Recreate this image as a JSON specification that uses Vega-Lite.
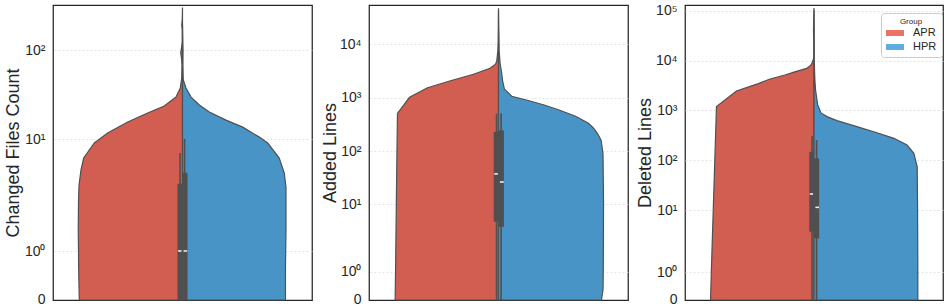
{
 "$schema": "https://vega.github.io/schema/vega-lite/v6.json",
 "padding": {"left": 3, "top": 3, "right": 0, "bottom": 0},
 "background": "white",
 "config": {
  "font": "Liberation Sans",
  "view": {"stroke": "#262626", "strokeWidth": 1.25},
  "axisY": {"domain": false, "ticks": false, "tickSize": 0, "labelPadding": 8, "labelFontSize": 14, "labelColor": "#262626", "titleFontSize": 18, "titleFontWeight": "normal", "titleColor": "#262626", "titleBaseline": "alphabetic", "titleY": 147.5, "titleX": -34, "gridColor": "#dddddd", "gridDash": [2, 2], "gridWidth": 0.8,
   "gridOpacity": {"condition": {"test": "datum.value === 0", "value": 0}, "value": 1},
   "labelOffset": {"condition": {"test": "datum.value === 0", "value": -1}, "value": 0},
   "labelExpr": "datum.value == 0 ? '0' : datum.value == 1 ? '10⁰' : datum.value == 10 ? '10¹' : datum.value == 100 ? '10²' : datum.value == 1000 ? '10³' : datum.value == 10000 ? '10⁴' : '10⁵'"}
 },
 "spacing": 57,
 "bounds": "flush",
 "resolve": {"scale": {"color": "independent"}, "legend": {"color": "independent"}},
 "datasets": {
  "violin": [
   {"metric": "files", "group": "APR", "value": 0, "density": 0.797},
   {"metric": "files", "group": "APR", "value": 0.194, "density": 0.802},
   {"metric": "files", "group": "APR", "value": 1, "density": 0.803},
   {"metric": "files", "group": "APR", "value": 1.54, "density": 0.805},
   {"metric": "files", "group": "APR", "value": 2.85, "density": 0.803},
   {"metric": "files", "group": "APR", "value": 3.88, "density": 0.799},
   {"metric": "files", "group": "APR", "value": 5.29, "density": 0.784},
   {"metric": "files", "group": "APR", "value": 6.77, "density": 0.763},
   {"metric": "files", "group": "APR", "value": 9.21, "density": 0.681},
   {"metric": "files", "group": "APR", "value": 11.7, "density": 0.578},
   {"metric": "files", "group": "APR", "value": 15.5, "density": 0.423},
   {"metric": "files", "group": "APR", "value": 19.6, "density": 0.269},
   {"metric": "files", "group": "APR", "value": 23.5, "density": 0.141},
   {"metric": "files", "group": "APR", "value": 29.6, "density": 0.05},
   {"metric": "files", "group": "APR", "value": 37.4, "density": 0.017},
   {"metric": "files", "group": "APR", "value": 48.4, "density": 0.006},
   {"metric": "files", "group": "APR", "value": 67.8, "density": 0.004},
   {"metric": "files", "group": "APR", "value": 81.3, "density": 0.008},
   {"metric": "files", "group": "APR", "value": 92.5, "density": 0.014},
   {"metric": "files", "group": "APR", "value": 105, "density": 0.008},
   {"metric": "files", "group": "APR", "value": 123, "density": 0.002},
   {"metric": "files", "group": "APR", "value": 168, "density": 0.002},
   {"metric": "files", "group": "APR", "value": 191, "density": 0.006},
   {"metric": "files", "group": "APR", "value": 217, "density": 0.002},
   {"metric": "files", "group": "APR", "value": 296, "density": 0},
   {"metric": "files", "group": "HPR", "value": 0, "density": 0.795},
   {"metric": "files", "group": "HPR", "value": 0.194, "density": 0.795},
   {"metric": "files", "group": "HPR", "value": 1.54, "density": 0.799},
   {"metric": "files", "group": "HPR", "value": 2.32, "density": 0.799},
   {"metric": "files", "group": "HPR", "value": 3.73, "density": 0.799},
   {"metric": "files", "group": "HPR", "value": 4.97, "density": 0.786},
   {"metric": "files", "group": "HPR", "value": 6.77, "density": 0.747},
   {"metric": "files", "group": "HPR", "value": 9.21, "density": 0.658},
   {"metric": "files", "group": "HPR", "value": 10.5, "density": 0.593},
   {"metric": "files", "group": "HPR", "value": 13.6, "density": 0.465},
   {"metric": "files", "group": "HPR", "value": 16.3, "density": 0.336},
   {"metric": "files", "group": "HPR", "value": 20.1, "density": 0.207},
   {"metric": "files", "group": "HPR", "value": 24.1, "density": 0.13},
   {"metric": "files", "group": "HPR", "value": 29.6, "density": 0.066},
   {"metric": "files", "group": "HPR", "value": 37.4, "density": 0.027},
   {"metric": "files", "group": "HPR", "value": 46, "density": 0.006},
   {"metric": "files", "group": "HPR", "value": 67.8, "density": 0.003},
   {"metric": "files", "group": "HPR", "value": 100, "density": 0.004},
   {"metric": "files", "group": "HPR", "value": 147, "density": 0.0015},
   {"metric": "files", "group": "HPR", "value": 191, "density": 0},
   {"metric": "added", "group": "APR", "value": 0, "density": 0.798},
   {"metric": "added", "group": "APR", "value": 1, "density": 0.795},
   {"metric": "added", "group": "APR", "value": 10, "density": 0.789},
   {"metric": "added", "group": "APR", "value": 100, "density": 0.784},
   {"metric": "added", "group": "APR", "value": 509, "density": 0.78},
   {"metric": "added", "group": "APR", "value": 1016, "density": 0.687},
   {"metric": "added", "group": "APR", "value": 1535, "density": 0.548},
   {"metric": "added", "group": "APR", "value": 2075, "density": 0.371},
   {"metric": "added", "group": "APR", "value": 2748, "density": 0.193},
   {"metric": "added", "group": "APR", "value": 3566, "density": 0.066},
   {"metric": "added", "group": "APR", "value": 4236, "density": 0.023},
   {"metric": "added", "group": "APR", "value": 4920, "density": 0.013},
   {"metric": "added", "group": "APR", "value": 7744, "density": 0.005},
   {"metric": "added", "group": "APR", "value": 11940, "density": 0.002},
   {"metric": "added", "group": "APR", "value": 22800, "density": 0.001},
   {"metric": "added", "group": "APR", "value": 47500, "density": 0},
   {"metric": "added", "group": "HPR", "value": 0, "density": 0.795},
   {"metric": "added", "group": "HPR", "value": 0.041, "density": 0.807},
   {"metric": "added", "group": "HPR", "value": 1, "density": 0.809},
   {"metric": "added", "group": "HPR", "value": 10, "density": 0.811},
   {"metric": "added", "group": "HPR", "value": 89.3, "density": 0.807},
   {"metric": "added", "group": "HPR", "value": 159, "density": 0.792},
   {"metric": "added", "group": "HPR", "value": 206, "density": 0.768},
   {"metric": "added", "group": "HPR", "value": 267, "density": 0.734},
   {"metric": "added", "group": "HPR", "value": 331, "density": 0.695},
   {"metric": "added", "group": "HPR", "value": 448, "density": 0.595},
   {"metric": "added", "group": "HPR", "value": 593, "density": 0.463},
   {"metric": "added", "group": "HPR", "value": 736, "density": 0.347},
   {"metric": "added", "group": "HPR", "value": 914, "density": 0.208},
   {"metric": "added", "group": "HPR", "value": 1062, "density": 0.102},
   {"metric": "added", "group": "HPR", "value": 1439, "density": 0.046},
   {"metric": "added", "group": "HPR", "value": 2119, "density": 0.031},
   {"metric": "added", "group": "HPR", "value": 2871, "density": 0.025},
   {"metric": "added", "group": "HPR", "value": 4416, "density": 0.012},
   {"metric": "added", "group": "HPR", "value": 7744, "density": 0.005},
   {"metric": "added", "group": "HPR", "value": 11940, "density": 0.004},
   {"metric": "added", "group": "HPR", "value": 22800, "density": 0.0015},
   {"metric": "added", "group": "HPR", "value": 43700, "density": 0},
   {"metric": "deleted", "group": "APR", "value": 0, "density": 0.802},
   {"metric": "deleted", "group": "APR", "value": 1, "density": 0.796},
   {"metric": "deleted", "group": "APR", "value": 10, "density": 0.781},
   {"metric": "deleted", "group": "APR", "value": 100, "density": 0.769},
   {"metric": "deleted", "group": "APR", "value": 1186, "density": 0.756},
   {"metric": "deleted", "group": "APR", "value": 2455, "density": 0.601},
   {"metric": "deleted", "group": "APR", "value": 3500, "density": 0.426},
   {"metric": "deleted", "group": "APR", "value": 4276, "density": 0.341},
   {"metric": "deleted", "group": "APR", "value": 5140, "density": 0.225},
   {"metric": "deleted", "group": "APR", "value": 5900, "density": 0.155},
   {"metric": "deleted", "group": "APR", "value": 7000, "density": 0.058},
   {"metric": "deleted", "group": "APR", "value": 7980, "density": 0.027},
   {"metric": "deleted", "group": "APR", "value": 8830, "density": 0.016},
   {"metric": "deleted", "group": "APR", "value": 11270, "density": 0.002},
   {"metric": "deleted", "group": "APR", "value": 25900, "density": 0.002},
   {"metric": "deleted", "group": "APR", "value": 41100, "density": 0.004},
   {"metric": "deleted", "group": "APR", "value": 114000, "density": 0},
   {"metric": "deleted", "group": "HPR", "value": 0, "density": 0.805},
   {"metric": "deleted", "group": "HPR", "value": 1, "density": 0.805},
   {"metric": "deleted", "group": "HPR", "value": 10, "density": 0.803},
   {"metric": "deleted", "group": "HPR", "value": 74, "density": 0.8},
   {"metric": "deleted", "group": "HPR", "value": 138, "density": 0.774},
   {"metric": "deleted", "group": "HPR", "value": 202, "density": 0.721},
   {"metric": "deleted", "group": "HPR", "value": 275, "density": 0.62},
   {"metric": "deleted", "group": "HPR", "value": 356, "density": 0.488},
   {"metric": "deleted", "group": "HPR", "value": 471, "density": 0.333},
   {"metric": "deleted", "group": "HPR", "value": 621, "density": 0.178},
   {"metric": "deleted", "group": "HPR", "value": 747, "density": 0.101},
   {"metric": "deleted", "group": "HPR", "value": 887, "density": 0.054},
   {"metric": "deleted", "group": "HPR", "value": 1283, "density": 0.029},
   {"metric": "deleted", "group": "HPR", "value": 1618, "density": 0.023},
   {"metric": "deleted", "group": "HPR", "value": 2570, "density": 0.012},
   {"metric": "deleted", "group": "HPR", "value": 4480, "density": 0.006},
   {"metric": "deleted", "group": "HPR", "value": 10280, "density": 0.002},
   {"metric": "deleted", "group": "HPR", "value": 41100, "density": 0.0015},
   {"metric": "deleted", "group": "HPR", "value": 103700, "density": 0}
  ],
  "box": [
   {"metric": "files", "group": "APR", "q1": 0, "median": 1, "q3": 4, "whislo": 0, "whishi": 7.5},
   {"metric": "files", "group": "HPR", "q1": 0, "median": 1, "q3": 5, "whislo": 0, "whishi": 10},
   {"metric": "added", "group": "APR", "q1": 5.5, "median": 37, "q3": 229, "whislo": 0, "whishi": 503},
   {"metric": "added", "group": "HPR", "q1": 4.6, "median": 26, "q3": 244, "whislo": 0, "whishi": 510},
   {"metric": "deleted", "group": "APR", "q1": 4.5, "median": 21, "q3": 148, "whislo": 0, "whishi": 306},
   {"metric": "deleted", "group": "HPR", "q1": 3.5, "median": 11.3, "q3": 109, "whislo": 0, "whishi": 255}
  ]
 },
 "hconcat": [
  {
   "width": 259, "height": 295,
   "resolve": {"scale": {"x": "independent"}},
   "layer": [
    {"layer": [
     {"data": {"name": "violin"}, "transform": [{"filter": "datum.metric === 'files' && datum.group === 'APR'"}],
      "mark": {"type": "area", "orient": "horizontal", "fill": "#d25e52", "stroke": "#505050", "strokeWidth": 1.2},
      "encoding": {
       "y": {"field": "value", "type": "quantitative", "title": "Changed Files Count", "scale": {"type": "symlog", "constant": 0.01, "domain": [0, 1, 10, 100, 316], "range": [295, 246, 134, 45, 0], "nice": false, "zero": false},
        "axis": {"title": "Changed Files Count", "values": [0, 1, 10, 100], "titleX": -35}},
       "x": {"field": "density", "type": "quantitative", "scale": {"domain": [-1, 1], "reverse": true}, "axis": null},
       "x2": {"datum": 0}}},
     {"data": {"name": "box"}, "transform": [{"filter": "datum.metric === 'files' && datum.group === 'APR'"}],
      "mark": {"type": "rect", "color": "#505050"},
      "encoding": {
       "y": {"field": "q1", "type": "quantitative", "title": "Changed Files Count", "scale": {"type": "symlog", "constant": 0.01, "domain": [0, 1, 10, 100, 316], "range": [295, 246, 134, 45, 0], "nice": false, "zero": false}},
       "y2": {"field": "q3"},
       "x": {"datum": 0.039, "type": "quantitative", "scale": {"domain": [-1, 1], "reverse": true}, "axis": null},
       "x2": {"datum": 0}}},
     {"data": {"name": "box"}, "transform": [{"filter": "datum.metric === 'files' && datum.group === 'APR'"}],
      "mark": {"type": "rule", "color": "#505050", "strokeWidth": 1.6},
      "encoding": {
       "y": {"field": "whislo", "type": "quantitative", "title": "Changed Files Count", "scale": {"type": "symlog", "constant": 0.01, "domain": [0, 1, 10, 100, 316], "range": [295, 246, 134, 45, 0], "nice": false, "zero": false}},
       "y2": {"field": "whishi"},
       "x": {"datum": 0.019, "type": "quantitative", "scale": {"domain": [-1, 1], "reverse": true}, "axis": null}}},
     {"data": {"name": "box"}, "transform": [{"filter": "datum.metric === 'files' && datum.group === 'APR'"}],
      "mark": {"type": "rule", "color": "#f5f5f5", "strokeWidth": 1.5},
      "encoding": {
       "y": {"field": "median", "type": "quantitative", "title": "Changed Files Count", "scale": {"type": "symlog", "constant": 0.01, "domain": [0, 1, 10, 100, 316], "range": [295, 246, 134, 45, 0], "nice": false, "zero": false}},
       "x": {"datum": 0.034, "type": "quantitative", "scale": {"domain": [-1, 1], "reverse": true}, "axis": null},
       "x2": {"datum": 0.007}}}
    ]},
    {"layer": [
     {"data": {"name": "violin"}, "transform": [{"filter": "datum.metric === 'files' && datum.group === 'HPR'"}],
      "mark": {"type": "area", "orient": "horizontal", "fill": "#4994c6", "stroke": "#505050", "strokeWidth": 1.2},
      "encoding": {
       "y": {"field": "value", "type": "quantitative", "title": "Changed Files Count", "scale": {"type": "symlog", "constant": 0.01, "domain": [0, 1, 10, 100, 316], "range": [295, 246, 134, 45, 0], "nice": false, "zero": false}},
       "x": {"field": "density", "type": "quantitative", "scale": {"domain": [-1, 1]}, "axis": null},
       "x2": {"datum": 0}}},
     {"data": {"name": "box"}, "transform": [{"filter": "datum.metric === 'files' && datum.group === 'HPR'"}],
      "mark": {"type": "rect", "color": "#505050"},
      "encoding": {
       "y": {"field": "q1", "type": "quantitative", "title": "Changed Files Count", "scale": {"type": "symlog", "constant": 0.01, "domain": [0, 1, 10, 100, 316], "range": [295, 246, 134, 45, 0], "nice": false, "zero": false}},
       "y2": {"field": "q3"},
       "x": {"datum": 0.039, "type": "quantitative", "scale": {"domain": [-1, 1]}, "axis": null},
       "x2": {"datum": 0}}},
     {"data": {"name": "box"}, "transform": [{"filter": "datum.metric === 'files' && datum.group === 'HPR'"}],
      "mark": {"type": "rule", "color": "#505050", "strokeWidth": 1.6},
      "encoding": {
       "y": {"field": "whislo", "type": "quantitative", "title": "Changed Files Count", "scale": {"type": "symlog", "constant": 0.01, "domain": [0, 1, 10, 100, 316], "range": [295, 246, 134, 45, 0], "nice": false, "zero": false}},
       "y2": {"field": "whishi"},
       "x": {"datum": 0.016, "type": "quantitative", "scale": {"domain": [-1, 1]}, "axis": null}}},
     {"data": {"name": "box"}, "transform": [{"filter": "datum.metric === 'files' && datum.group === 'HPR'"}],
      "mark": {"type": "rule", "color": "#f5f5f5", "strokeWidth": 1.5},
      "encoding": {
       "y": {"field": "median", "type": "quantitative", "title": "Changed Files Count", "scale": {"type": "symlog", "constant": 0.01, "domain": [0, 1, 10, 100, 316], "range": [295, 246, 134, 45, 0], "nice": false, "zero": false}},
       "x": {"datum": 0.036, "type": "quantitative", "scale": {"domain": [-1, 1]}, "axis": null},
       "x2": {"datum": 0.008}}}
    ]}
   ]
  },
  {
   "width": 259, "height": 295,
   "resolve": {"scale": {"x": "independent"}},
   "layer": [
    {"layer": [
     {"data": {"name": "violin"}, "transform": [{"filter": "datum.metric === 'added' && datum.group === 'APR'"}],
      "mark": {"type": "area", "orient": "horizontal", "fill": "#d25e52", "stroke": "#505050", "strokeWidth": 1.2},
      "encoding": {
       "y": {"field": "value", "type": "quantitative", "title": "Added Lines", "scale": {"type": "symlog", "constant": 0.01, "domain": [0, 1, 10, 100, 1000, 10000, 54600], "range": [295, 266.7, 199, 146, 92.7, 39.3, 0], "nice": false, "zero": false},
        "axis": {"title": "Added Lines", "values": [0, 1, 10, 100, 1000, 10000], "titleX": -33.5}},
       "x": {"field": "density", "type": "quantitative", "scale": {"domain": [-1, 1], "reverse": true}, "axis": null},
       "x2": {"datum": 0}}},
     {"data": {"name": "box"}, "transform": [{"filter": "datum.metric === 'added' && datum.group === 'APR'"}],
      "mark": {"type": "rect", "color": "#505050"},
      "encoding": {
       "y": {"field": "q1", "type": "quantitative", "title": "Added Lines", "scale": {"type": "symlog", "constant": 0.01, "domain": [0, 1, 10, 100, 1000, 10000, 54600], "range": [295, 266.7, 199, 146, 92.7, 39.3, 0], "nice": false, "zero": false}},
       "y2": {"field": "q3"},
       "x": {"datum": 0.037, "type": "quantitative", "scale": {"domain": [-1, 1], "reverse": true}, "axis": null},
       "x2": {"datum": 0}}},
     {"data": {"name": "box"}, "transform": [{"filter": "datum.metric === 'added' && datum.group === 'APR'"}],
      "mark": {"type": "rule", "color": "#505050", "strokeWidth": 1.6},
      "encoding": {
       "y": {"field": "whislo", "type": "quantitative", "title": "Added Lines", "scale": {"type": "symlog", "constant": 0.01, "domain": [0, 1, 10, 100, 1000, 10000, 54600], "range": [295, 266.7, 199, 146, 92.7, 39.3, 0], "nice": false, "zero": false}},
       "y2": {"field": "whishi"},
       "x": {"datum": 0.015, "type": "quantitative", "scale": {"domain": [-1, 1], "reverse": true}, "axis": null}}},
     {"data": {"name": "box"}, "transform": [{"filter": "datum.metric === 'added' && datum.group === 'APR'"}],
      "mark": {"type": "rule", "color": "#f5f5f5", "strokeWidth": 1.5},
      "encoding": {
       "y": {"field": "median", "type": "quantitative", "title": "Added Lines", "scale": {"type": "symlog", "constant": 0.01, "domain": [0, 1, 10, 100, 1000, 10000, 54600], "range": [295, 266.7, 199, 146, 92.7, 39.3, 0], "nice": false, "zero": false}},
       "x": {"datum": 0.033, "type": "quantitative", "scale": {"domain": [-1, 1], "reverse": true}, "axis": null},
       "x2": {"datum": 0.004}}}
    ]},
    {"layer": [
     {"data": {"name": "violin"}, "transform": [{"filter": "datum.metric === 'added' && datum.group === 'HPR'"}],
      "mark": {"type": "area", "orient": "horizontal", "fill": "#4994c6", "stroke": "#505050", "strokeWidth": 1.2},
      "encoding": {
       "y": {"field": "value", "type": "quantitative", "title": "Added Lines", "scale": {"type": "symlog", "constant": 0.01, "domain": [0, 1, 10, 100, 1000, 10000, 54600], "range": [295, 266.7, 199, 146, 92.7, 39.3, 0], "nice": false, "zero": false}},
       "x": {"field": "density", "type": "quantitative", "scale": {"domain": [-1, 1]}, "axis": null},
       "x2": {"datum": 0}}},
     {"data": {"name": "box"}, "transform": [{"filter": "datum.metric === 'added' && datum.group === 'HPR'"}],
      "mark": {"type": "rect", "color": "#505050"},
      "encoding": {
       "y": {"field": "q1", "type": "quantitative", "title": "Added Lines", "scale": {"type": "symlog", "constant": 0.01, "domain": [0, 1, 10, 100, 1000, 10000, 54600], "range": [295, 266.7, 199, 146, 92.7, 39.3, 0], "nice": false, "zero": false}},
       "y2": {"field": "q3"},
       "x": {"datum": 0.042, "type": "quantitative", "scale": {"domain": [-1, 1]}, "axis": null},
       "x2": {"datum": 0}}},
     {"data": {"name": "box"}, "transform": [{"filter": "datum.metric === 'added' && datum.group === 'HPR'"}],
      "mark": {"type": "rule", "color": "#505050", "strokeWidth": 1.6},
      "encoding": {
       "y": {"field": "whislo", "type": "quantitative", "title": "Added Lines", "scale": {"type": "symlog", "constant": 0.01, "domain": [0, 1, 10, 100, 1000, 10000, 54600], "range": [295, 266.7, 199, 146, 92.7, 39.3, 0], "nice": false, "zero": false}},
       "y2": {"field": "whishi"},
       "x": {"datum": 0.02, "type": "quantitative", "scale": {"domain": [-1, 1]}, "axis": null}}},
     {"data": {"name": "box"}, "transform": [{"filter": "datum.metric === 'added' && datum.group === 'HPR'"}],
      "mark": {"type": "rule", "color": "#f5f5f5", "strokeWidth": 1.5},
      "encoding": {
       "y": {"field": "median", "type": "quantitative", "title": "Added Lines", "scale": {"type": "symlog", "constant": 0.01, "domain": [0, 1, 10, 100, 1000, 10000, 54600], "range": [295, 266.7, 199, 146, 92.7, 39.3, 0], "nice": false, "zero": false}},
       "x": {"datum": 0.041, "type": "quantitative", "scale": {"domain": [-1, 1]}, "axis": null},
       "x2": {"datum": 0.011}}}
    ]}
   ]
  },
  {
   "width": 258, "height": 295,
   "resolve": {"scale": {"x": "independent"}},
   "layer": [
    {"layer": [
     {"data": {"name": "violin"}, "transform": [{"filter": "datum.metric === 'deleted' && datum.group === 'APR'"}],
      "mark": {"type": "area", "orient": "horizontal", "fill": "#d25e52", "stroke": "#505050", "strokeWidth": 1.2},
      "encoding": {
       "y": {"field": "value", "type": "quantitative", "title": "Deleted Lines", "scale": {"type": "symlog", "constant": 0.01, "domain": [0, 1, 10, 100, 1000, 10000, 100000, 131000], "range": [295, 267.3, 205, 155.3, 105.3, 55.7, 5.9, 0], "nice": false, "zero": false},
        "axis": {"title": "Deleted Lines", "values": [0, 1, 10, 100, 1000, 10000, 100000], "titleX": -34.5}},
       "x": {"field": "density", "type": "quantitative", "scale": {"domain": [-1, 1], "reverse": true}, "axis": null},
       "x2": {"datum": 0}}},
     {"data": {"name": "box"}, "transform": [{"filter": "datum.metric === 'deleted' && datum.group === 'APR'"}],
      "mark": {"type": "rect", "color": "#505050"},
      "encoding": {
       "y": {"field": "q1", "type": "quantitative", "title": "Deleted Lines", "scale": {"type": "symlog", "constant": 0.01, "domain": [0, 1, 10, 100, 1000, 10000, 100000, 131000], "range": [295, 267.3, 205, 155.3, 105.3, 55.7, 5.9, 0], "nice": false, "zero": false}},
       "y2": {"field": "q3"},
       "x": {"datum": 0.037, "type": "quantitative", "scale": {"domain": [-1, 1], "reverse": true}, "axis": null},
       "x2": {"datum": 0}}},
     {"data": {"name": "box"}, "transform": [{"filter": "datum.metric === 'deleted' && datum.group === 'APR'"}],
      "mark": {"type": "rule", "color": "#505050", "strokeWidth": 1.6},
      "encoding": {
       "y": {"field": "whislo", "type": "quantitative", "title": "Deleted Lines", "scale": {"type": "symlog", "constant": 0.01, "domain": [0, 1, 10, 100, 1000, 10000, 100000, 131000], "range": [295, 267.3, 205, 155.3, 105.3, 55.7, 5.9, 0], "nice": false, "zero": false}},
       "y2": {"field": "whishi"},
       "x": {"datum": 0.015, "type": "quantitative", "scale": {"domain": [-1, 1], "reverse": true}, "axis": null}}},
     {"data": {"name": "box"}, "transform": [{"filter": "datum.metric === 'deleted' && datum.group === 'APR'"}],
      "mark": {"type": "rule", "color": "#f5f5f5", "strokeWidth": 1.5},
      "encoding": {
       "y": {"field": "median", "type": "quantitative", "title": "Deleted Lines", "scale": {"type": "symlog", "constant": 0.01, "domain": [0, 1, 10, 100, 1000, 10000, 100000, 131000], "range": [295, 267.3, 205, 155.3, 105.3, 55.7, 5.9, 0], "nice": false, "zero": false}},
       "x": {"datum": 0.033, "type": "quantitative", "scale": {"domain": [-1, 1], "reverse": true}, "axis": null},
       "x2": {"datum": 0.006}}}
    ]},
    {"layer": [
     {"data": {"name": "violin"}, "transform": [{"filter": "datum.metric === 'deleted' && datum.group === 'HPR'"}],
      "mark": {"type": "area", "orient": "horizontal", "fill": "#4994c6", "stroke": "#505050", "strokeWidth": 1.2},
      "encoding": {
       "y": {"field": "value", "type": "quantitative", "title": "Deleted Lines", "scale": {"type": "symlog", "constant": 0.01, "domain": [0, 1, 10, 100, 1000, 10000, 100000, 131000], "range": [295, 267.3, 205, 155.3, 105.3, 55.7, 5.9, 0], "nice": false, "zero": false}},
       "x": {"field": "density", "type": "quantitative", "scale": {"domain": [-1, 1]}, "axis": null},
       "x2": {"datum": 0}}},
     {"data": {"name": "box"}, "transform": [{"filter": "datum.metric === 'deleted' && datum.group === 'HPR'"}],
      "mark": {"type": "rect", "color": "#505050"},
      "encoding": {
       "y": {"field": "q1", "type": "quantitative", "title": "Deleted Lines", "scale": {"type": "symlog", "constant": 0.01, "domain": [0, 1, 10, 100, 1000, 10000, 100000, 131000], "range": [295, 267.3, 205, 155.3, 105.3, 55.7, 5.9, 0], "nice": false, "zero": false}},
       "y2": {"field": "q3"},
       "x": {"datum": 0.04, "type": "quantitative", "scale": {"domain": [-1, 1]}, "axis": null},
       "x2": {"datum": 0}}},
     {"data": {"name": "box"}, "transform": [{"filter": "datum.metric === 'deleted' && datum.group === 'HPR'"}],
      "mark": {"type": "rule", "color": "#505050", "strokeWidth": 1.6},
      "encoding": {
       "y": {"field": "whislo", "type": "quantitative", "title": "Deleted Lines", "scale": {"type": "symlog", "constant": 0.01, "domain": [0, 1, 10, 100, 1000, 10000, 100000, 131000], "range": [295, 267.3, 205, 155.3, 105.3, 55.7, 5.9, 0], "nice": false, "zero": false}},
       "y2": {"field": "whishi"},
       "x": {"datum": 0.02, "type": "quantitative", "scale": {"domain": [-1, 1]}, "axis": null}}},
     {"data": {"name": "box"}, "transform": [{"filter": "datum.metric === 'deleted' && datum.group === 'HPR'"}],
      "mark": {"type": "rule", "color": "#f5f5f5", "strokeWidth": 1.5},
      "encoding": {
       "y": {"field": "median", "type": "quantitative", "title": "Deleted Lines", "scale": {"type": "symlog", "constant": 0.01, "domain": [0, 1, 10, 100, 1000, 10000, 100000, 131000], "range": [295, 267.3, 205, 155.3, 105.3, 55.7, 5.9, 0], "nice": false, "zero": false}},
       "x": {"datum": 0.039, "type": "quantitative", "scale": {"domain": [-1, 1]}, "axis": null},
       "x2": {"datum": 0.011}}},
     {"data": {"name": "box"}, "transform": [{"filter": "datum.metric === 'deleted'"}],
      "mark": {"type": "point", "filled": true, "opacity": 0},
      "encoding": {
       "y": {"field": "median", "type": "quantitative", "title": "Deleted Lines", "scale": {"type": "symlog", "constant": 0.01, "domain": [0, 1, 10, 100, 1000, 10000, 100000, 131000], "range": [295, 267.3, 205, 155.3, 105.3, 55.7, 5.9, 0], "nice": false, "zero": false}},
       "x": {"datum": 0, "type": "quantitative", "scale": {"domain": [-1, 1]}, "axis": null},
       "color": {"field": "group", "type": "nominal", "scale": {"domain": ["APR", "HPR"], "range": ["#ec7063", "#5dade2"]},
        "legend": {"orient": "none", "legendX": 196, "legendY": 8, "title": "Group", "titleFontSize": 8, "titleFontWeight": "normal", "titleColor": "#262626", "titleAnchor": "middle", "titlePadding": -2, "labelFontSize": 11, "labelColor": "#262626", "symbolType": "M-1,-0.33H1V0.33H-1Z", "symbolSize": 324, "symbolStrokeWidth": 0, "symbolOpacity": 1, "labelOffset": 9, "padding": 5, "fillColor": "#ffffff", "strokeColor": "#cccccc", "cornerRadius": 3, "rowPadding": 0}}}}
    ]}
   ]
  }
 ]
}
